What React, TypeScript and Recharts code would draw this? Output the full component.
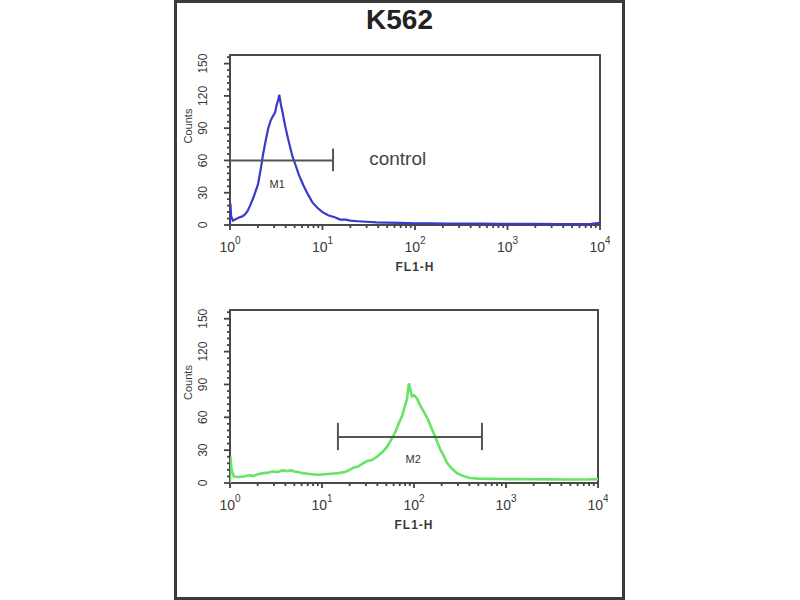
import { LineChart, Line, XAxis, YAxis, ReferenceArea, ReferenceLine, ReferenceDot } from "recharts"

const FONT = "'Liberation Sans', Arial, sans-serif"

// control (top panel), FL1-H channel value -> counts
const controlX = [1, 1.01, 1.03, 1.08, 1.13, 1.25, 1.36, 1.46, 1.55, 1.65, 1.8, 2.01, 2.15, 2.28, 2.45, 2.59, 2.75, 2.86, 3.0, 3.08, 3.2, 3.32, 3.41, 3.5, 3.58, 3.68, 3.77, 3.95, 4.17, 4.45, 4.72, 5.1, 5.48, 5.85, 6.21, 7.0, 7.78, 8.8, 10, 11.5, 13.8, 15.5, 17.8, 20, 24, 30, 38, 50, 70, 100, 150, 220, 350, 500, 800, 1300, 2000, 3500, 5500, 8000, 10000]
const controlCounts = [0, 20, 8, 4, 5, 7, 8, 10, 13, 18, 26, 38, 52, 66, 80, 90, 97, 100, 103, 105, 112, 116, 121, 115, 110, 106, 101, 92, 83, 73, 64, 56, 48, 42, 37, 28, 21, 16, 12, 9, 7, 5, 5, 4, 3.5, 3, 2.5, 2.2, 2, 1.6, 1.5, 1.3, 1.2, 1.2, 1, 1, 1, 0.8, 0.8, 1, 2]

// stained sample (bottom panel)
const stainedX = [1, 1.01, 1.04, 1.1, 1.22, 1.4, 1.6, 1.8, 2.01, 2.3, 2.59, 2.9, 3.3, 3.7, 4.17, 4.6, 5.0, 5.48, 6.2, 7.0, 7.78, 9.0, 10.8, 12.5, 15, 17.8, 20, 22, 24.6, 27.9, 31, 34.9, 39.6, 45, 50.9, 56, 62.1, 68, 74, 79, 84, 86, 88, 91, 95, 101, 108, 115, 122, 132, 142, 155, 169, 180, 192, 210, 228, 260, 293, 340, 406, 500, 650, 900, 1300, 2000, 3000, 5000, 7500, 10000]
const stainedCounts = [0, 24, 12, 6, 5.5, 6, 7, 6.5, 8, 9, 9.5, 10.5, 10, 11.5, 11, 11.5, 10.5, 10, 9, 8.5, 8, 7.5, 8, 8.5, 9, 10, 12, 14, 15, 18, 20, 21, 24, 28, 33, 39, 46, 54, 61, 69, 77, 84, 91, 86, 79, 80, 77, 72, 68, 63, 58, 50, 43, 37, 31, 25, 18.5, 13, 9, 6.5, 4.6, 4, 3.8, 3.6, 3.5, 3.4, 3.3, 3.2, 3.2, 3.5]

const decadeTicks = [1, 10, 100, 1000, 10000]
const minorLogTicks = [2, 3, 4, 5, 6, 7, 8, 9, 20, 30, 40, 50, 60, 70, 80, 90, 200, 300, 400, 500, 600, 700, 800, 900, 2000, 3000, 4000, 5000, 6000, 7000, 8000, 9000]
const countTicks = [0, 30, 60, 90, 120, 150]
const minorCountTicks = [6, 12, 18, 24, 36, 42, 48, 54, 66, 72, 78, 84, 96, 102, 108, 114, 126, 132, 138, 144, 156]

const allXTicks = [...decadeTicks, ...minorLogTicks].sort((a, b) => a - b)
const allYTicks = [...countTicks, ...minorCountTicks].sort((a, b) => a - b)

const toRows = (xs: number[], ys: number[]) => xs.map((x, i) => ({ x, count: ys[i] }))
const controlData = toRows(controlX, controlCounts)
const stainedData = toRows(stainedX, stainedCounts)

function LogTick({ x, y, payload }: any) {
  const exp = decadeTicks.indexOf(payload.value)
  if (exp < 0) return <line x1={x} x2={x} y1={y} y2={y + 3} stroke="#444" strokeWidth={1.8} />
  return (
    <g>
      <line x1={x} x2={x} y1={y} y2={y + 5} stroke="#444" strokeWidth={1.8} />
      <text x={x} y={y + 27} textAnchor="middle" fontSize={14} fill="#3a3a3a" fontFamily={FONT}>
        10<tspan dy={-8} fontSize={10}>{exp}</tspan>
      </text>
    </g>
  )
}

function CountTick({ x, y, payload }: any) {
  const major = countTicks.includes(payload.value)
  return (
    <g>
      <line x1={x - (major ? 6 : 3)} x2={x} y1={y} y2={y} stroke="#444" strokeWidth={1.8} />
      {major && (
        <text
          x={x - 27}
          y={y}
          transform={`rotate(-90 ${x - 27} ${y})`}
          textAnchor="middle"
          dominantBaseline="central"
          fontSize={12}
          fill="#3a3a3a"
          fontFamily={FONT}
        >
          {payload.value}
        </text>
      )}
    </g>
  )
}

const markerStroke = "#555"

function Panel({ data, color, lineWidth, width, height, marker, markerLabel }: any) {
  const [lo, hi, level, capLo, capHi] = marker
  return (
    <LineChart width={width} height={height} data={data} margin={{ top: 10, right: 10, bottom: 10, left: 0 }}>
      <XAxis
        dataKey="x"
        type="number"
        scale="log"
        domain={[1, 10000]}
        ticks={allXTicks}
        interval={0}
        tick={<LogTick />}
        tickLine={false}
        tickSize={0}
        tickMargin={0}
        axisLine={false}
        height={50}
        allowDataOverflow
        label={{ value: "FL1-H", position: "center", dy: 17, fontSize: 12, fontWeight: "bold", fill: "#3a3a3a", fontFamily: FONT, letterSpacing: 1 }}
      />
      <YAxis
        type="number"
        domain={[0, 158]}
        ticks={allYTicks}
        interval={0}
        tick={<CountTick />}
        tickLine={false}
        tickSize={0}
        tickMargin={0}
        axisLine={false}
        width={60}
        label={{ value: "Counts", angle: -90, position: "center", dx: -12, dy: -14, fontSize: 11, fill: "#3a3a3a", fontFamily: FONT }}
      />
      <ReferenceArea x1={1} x2={10000} y1={0} y2={158} fill="none" stroke="#4a4a4a" strokeWidth={2} />
      <Line
        dataKey="count"
        type="linear"
        stroke={color}
        strokeWidth={lineWidth}
        dot={false}
        isAnimationActive={false}
      />
      <ReferenceLine segment={[{ x: lo, y: level }, { x: hi, y: level }]} stroke={markerStroke} strokeWidth={2} />
      <ReferenceLine segment={[{ x: lo, y: capLo }, { x: lo, y: capHi }]} stroke={markerStroke} strokeWidth={2} />
      <ReferenceLine segment={[{ x: hi, y: capLo }, { x: hi, y: capHi }]} stroke={markerStroke} strokeWidth={2} />
      <ReferenceDot
        x={markerLabel.x}
        y={markerLabel.y}
        r={0}
        fill="none"
        stroke="none"
        label={{ value: markerLabel.text, position: "center", fontSize: 11, fill: "#333", fontFamily: FONT }}
      />
      {markerLabel.note && (
        <ReferenceDot
          x={markerLabel.note.x}
          y={markerLabel.note.y}
          r={0}
          fill="none"
          stroke="none"
          label={{ value: markerLabel.note.text, position: "center", fontSize: 19, fill: "#444", fontFamily: FONT }}
        />
      )}
    </LineChart>
  )
}

export default function App() {
  return (
    <div style={{ position: "absolute", left: 0, top: 0, width: 800, height: 600, background: "#fff", overflow: "hidden" }}>
      <div
        style={{
          position: "absolute",
          left: 174,
          top: 0,
          width: 451,
          height: 600,
          border: "3px solid #3a3a3a",
          boxSizing: "border-box",
        }}
      />
      <div
        style={{
          position: "absolute",
          left: 174,
          top: 4,
          width: 451,
          textAlign: "center",
          fontFamily: FONT,
          fontWeight: "bold",
          fontSize: 28,
          lineHeight: "32px",
          color: "#222",
        }}
      >
        K562
      </div>
      <div style={{ position: "absolute", left: 170, top: 45 }}>
        <Panel
          data={controlData}
          color="#3a3ac8"
          lineWidth={2.2}
          width={440}
          height={240}
          marker={[1, 13, 60, 50, 71]}
          markerLabel={{ x: 3.24, y: 38, text: "M1", note: { x: 65, y: 62, text: "control" } }}
        />
      </div>
      <div style={{ position: "absolute", left: 170, top: 300 }}>
        <Panel
          data={stainedData}
          color="#66e466"
          lineWidth={2.6}
          width={438}
          height={243}
          marker={[14.9, 548, 42, 30, 55]}
          markerLabel={{ x: 98, y: 22, text: "M2" }}
        />
      </div>
    </div>
  )
}
